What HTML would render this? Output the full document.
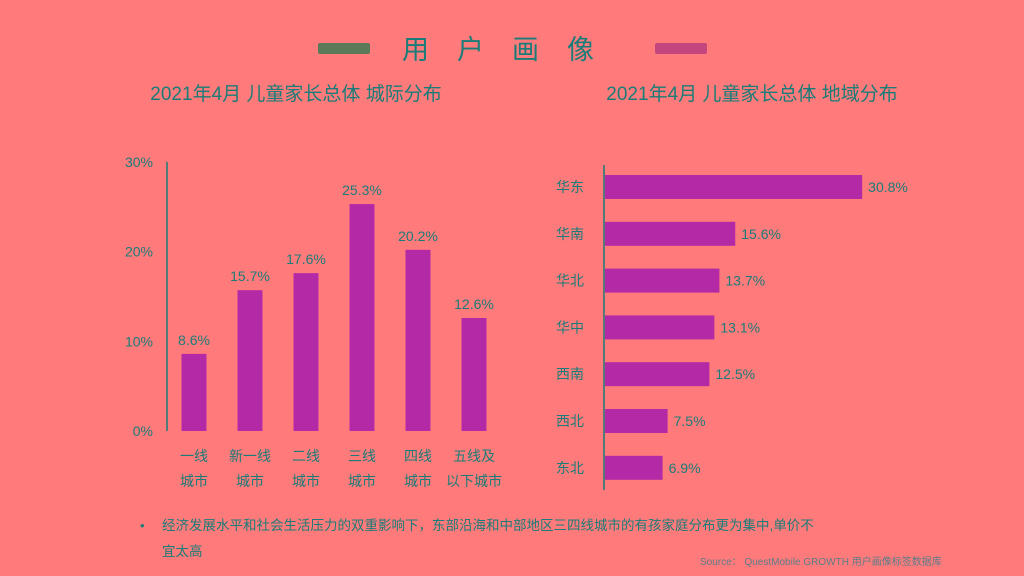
<!DOCTYPE html>
<html><head><meta charset="utf-8"><style>
body{margin:0;width:1024px;height:576px;background:#ff7b7b;overflow:hidden;font-family:"Liberation Sans","Noto Sans CJK SC",sans-serif;color:#1a7c78}
svg{position:absolute;left:0;top:0}
</style></head><body>
<svg width="1024" height="576">
<rect x="318" y="43" width="52" height="11" rx="2" fill="#5a7a5a"/>
<rect x="655" y="43" width="52" height="11" rx="2" fill="#c4467e"/>
<text x="512" y="59" text-anchor="middle" font-size="27" fill="#1a7c78" letter-spacing="28">用户画像</text>
<text x="296" y="100" text-anchor="middle" font-size="19" fill="#1a7c78">2021年4月 儿童家长总体 城际分布</text>
<text x="752" y="100" text-anchor="middle" font-size="19" fill="#1a7c78">2021年4月 儿童家长总体 地域分布</text>
<g id="left"></g><g id="right"></g>
<text x="140" y="530" font-size="13" fill="#1a7c78">•</text>
<text x="162" y="530" font-size="13.5" fill="#1a7c78">经济发展水平和社会生活压力的双重影响下，东部沿海和中部地区三四线城市的有孩家庭分布更为集中,单价不</text>
<text x="162" y="556" font-size="13.5" fill="#1a7c78">宜太高</text>
<text x="700" y="565" font-size="10" fill="#5a7c88">Source： QuestMobile GROWTH 用户画像标签数据库</text>
</svg>
<script>
const cityCats=["一线|城市","新一线|城市","二线|城市","三线|城市","四线|城市","五线及|以下城市"];
const cityVals=[8.6,15.7,17.6,25.3,20.2,12.6];
const yTicks=[0,10,20,30];
const regionCats=["华东","华南","华北","华中","西南","西北","东北"];
const regionVals=[30.8,15.6,13.7,13.1,12.5,7.5,6.9];
const NS="http://www.w3.org/2000/svg";
function mk(p,t,a,txt){const e=document.createElementNS(NS,t);for(const k in a)e.setAttribute(k,a[k]);if(txt!=null)e.textContent=txt;p.appendChild(e);return e;}
const L=document.getElementById('left');
const y=v=>431-v*8.97, xc=i=>194+i*56;
const ax=mk(L,'line',{x1:167,x2:167,y1:y(30),y2:431,stroke:'#1a7c78','stroke-width':1.5});


yTicks.forEach(t=>{const e=mk(L,'text',{x:153,y:y(t)+5,'text-anchor':'end','font-size':14,fill:'#1a7c78'},t+'%');

});
cityVals.forEach((v,i)=>{const r=mk(L,'rect',{x:xc(i)-12.5,y:y(v),width:25,height:431-y(v),fill:'#b42aa6'});


const l=mk(L,'text',{x:xc(i),y:y(v)-9,'text-anchor':'middle','font-size':14,fill:'#1a7c78'},v.toFixed(1)+'%');


cityCats[i].split('|').forEach((s,j)=>{const c=mk(L,'text',{x:xc(i),y:461+j*25,'text-anchor':'middle','font-size':14,fill:'#1a7c78'},s);

});});
const R=document.getElementById('right');
const xs=v=>605+v*8.35, yc=i=>187+i*46.8;
const ax2=mk(R,'line',{x1:604,x2:604,y1:165,y2:490,stroke:'#1a7c78','stroke-width':1.5});


regionVals.forEach((v,i)=>{const r=mk(R,'rect',{x:605,y:yc(i)-12,width:xs(v)-605,height:24,fill:'#b42aa6'});


const l=mk(R,'text',{x:xs(v)+6,y:yc(i)+5,'font-size':14,fill:'#1a7c78'},v.toFixed(1)+'%');


const c=mk(R,'text',{x:570,y:yc(i)+5,'text-anchor':'middle','font-size':14,fill:'#1a7c78'},regionCats[i]);

});
</script>
</body></html>
